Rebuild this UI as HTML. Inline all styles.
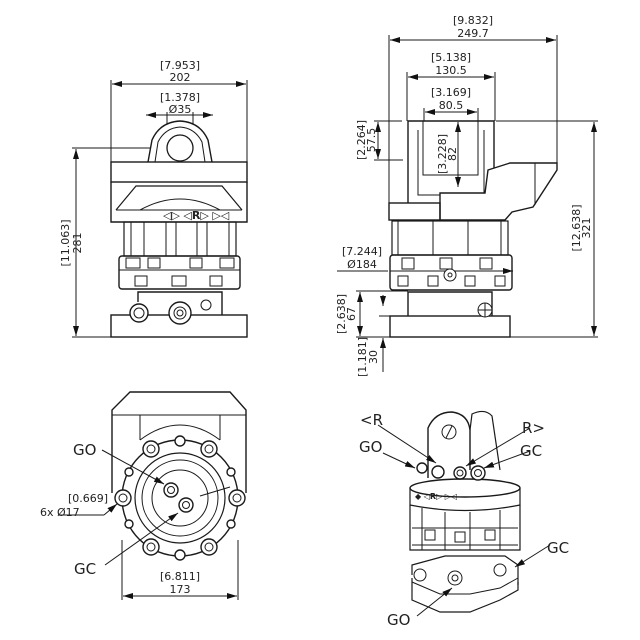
<!DOCTYPE html>
<html><head><meta charset="utf-8"><style>
html,body{margin:0;padding:0;background:#fff}
svg{display:block}
text{font-family:"DejaVu Sans","Liberation Sans",sans-serif;fill:#222}
.d{font-size:11px}
.l{font-size:15px}
</style></head><body>
<svg width="640" height="640" viewBox="0 0 640 640" xmlns="http://www.w3.org/2000/svg">
<defs>
<marker id="a" markerWidth="10" markerHeight="6" refX="10" refY="3" orient="auto-start-reverse" markerUnits="userSpaceOnUse"><path d="M0,0 L10,3 L0,6z" fill="#111"/></marker>
</defs>
<g stroke="#1a1a1a" stroke-width="1" fill="none">
<!-- ===== TOP LEFT VIEW ===== -->
<line x1="111" y1="80" x2="111" y2="162"/><line x1="247" y1="80" x2="247" y2="162"/>
<line x1="112" y1="84" x2="246" y2="84" marker-start="url(#a)" marker-end="url(#a)"/>
<line x1="146" y1="115" x2="213" y2="115" marker-start="url(#a)" marker-end="url(#a)"/>
<line x1="167" y1="112" x2="167" y2="148"/><line x1="193" y1="112" x2="193" y2="148"/>
<line x1="72" y1="148" x2="180" y2="148"/>
<line x1="76" y1="149" x2="76" y2="336" marker-start="url(#a)" marker-end="url(#a)"/>
<line x1="72" y1="337" x2="115" y2="337"/>
<path d="M148,162 L152,140 Q160,122 180,121 Q200,122 208,140 L212,162" fill="#fff" stroke-width="1.4"/>
<path d="M155,162 L158,142 Q165,128 180,127 Q195,128 202,142 L205,162"/>
<circle cx="180" cy="148" r="13" stroke-width="1.3"/>
<rect x="111" y="162" width="136" height="20" stroke-width="1.4"/>
<path d="M111,182 L111,222 L247,222 L247,182" stroke-width="1.4"/>
<path d="M116,210 L136,186 L222,186 L242,210" stroke-width="1.2"/>
<line x1="116" y1="210" x2="242" y2="210"/>
<path d="M140,210 Q180,188 220,210"/>
<rect x="124" y="222" width="112" height="34" stroke-width="1.2"/>
<line x1="131" y1="222" x2="131" y2="256"/><line x1="144" y1="222" x2="144" y2="256"/><line x1="166" y1="222" x2="166" y2="256"/><line x1="176" y1="222" x2="176" y2="256"/><line x1="197" y1="222" x2="197" y2="256"/><line x1="207" y1="222" x2="207" y2="256"/><line x1="229" y1="222" x2="229" y2="256"/>
<rect x="119" y="256" width="121" height="33" rx="3" stroke-width="1.4"/>
<line x1="119" y1="270" x2="240" y2="270"/>
<rect x="135" y="276" width="12" height="10"/><rect x="172" y="276" width="14" height="10"/><rect x="210" y="276" width="12" height="10"/>
<rect x="126" y="258" width="14" height="10"/><rect x="148" y="258" width="12" height="10"/><rect x="190" y="258" width="12" height="10"/><rect x="220" y="258" width="14" height="10"/>
<path d="M138,302 L138,292 L222,292 L222,315" stroke-width="1.4"/>
<rect x="111" y="315" width="136" height="22" stroke-width="1.4"/>
<circle cx="139" cy="313" r="9" fill="#fff" stroke-width="1.4"/><circle cx="139" cy="313" r="5"/>
<circle cx="180" cy="313" r="11" fill="#fff" stroke-width="1.4"/><circle cx="180" cy="313" r="6"/><circle cx="180" cy="313" r="3"/>
<circle cx="206" cy="305" r="5"/>
<!-- ===== TOP RIGHT VIEW ===== -->
<line x1="389" y1="35" x2="389" y2="203"/><line x1="557" y1="35" x2="557" y2="163"/>
<line x1="390" y1="40" x2="556" y2="40" marker-start="url(#a)" marker-end="url(#a)"/>
<line x1="407" y1="72" x2="407" y2="121"/><line x1="495" y1="72" x2="495" y2="121"/>
<line x1="408" y1="77" x2="494" y2="77" marker-start="url(#a)" marker-end="url(#a)"/>
<line x1="424" y1="108" x2="424" y2="121"/><line x1="478" y1="108" x2="478" y2="121"/>
<line x1="425" y1="112" x2="477" y2="112" marker-start="url(#a)" marker-end="url(#a)"/>
<line x1="458" y1="122" x2="458" y2="187" marker-start="url(#a)" marker-end="url(#a)"/>
<line x1="378" y1="122" x2="378" y2="159" marker-start="url(#a)" marker-end="url(#a)"/>
<line x1="374" y1="121" x2="402" y2="121"/><line x1="374" y1="160" x2="403" y2="160"/>
<line x1="496" y1="121" x2="598" y2="121"/><line x1="510" y1="337" x2="598" y2="337"/>
<line x1="594" y1="122" x2="594" y2="336" marker-start="url(#a)" marker-end="url(#a)"/>
<path d="M408,203 L408,121 L494,121 L494,203" stroke-width="1.4"/>
<path d="M423,121 L423,175 L478,175 L478,121"/>
<path d="M418,130 L418,195 L484,195 L484,130"/>
<path d="M440,203 L440,193 L485,193 L488,170 L510,163 L557,163 L557,170 L533,207 L512,212 L505,220 L440,220 Z" fill="#fff" stroke-width="1.4"/>
<line x1="535" y1="163" x2="535" y2="205"/>
<rect x="389" y="203" width="51" height="17" stroke-width="1.4"/>
<rect x="392" y="221" width="116" height="34" stroke-width="1.2"/>
<line x1="398" y1="221" x2="398" y2="255"/><line x1="433" y1="221" x2="433" y2="255"/><line x1="468" y1="221" x2="468" y2="255"/><line x1="501" y1="221" x2="501" y2="255"/>
<rect x="390" y="255" width="122" height="35" rx="3" stroke-width="1.4"/>
<line x1="390" y1="271" x2="512" y2="271"/>
<rect x="402" y="258" width="12" height="11"/><rect x="440" y="258" width="12" height="11"/><rect x="480" y="258" width="12" height="11"/>
<rect x="398" y="276" width="10" height="10"/><rect x="428" y="276" width="10" height="10"/><rect x="465" y="276" width="10" height="10"/><rect x="495" y="276" width="10" height="10"/>
<circle cx="450" cy="275" r="6" fill="#fff"/><circle cx="450" cy="275" r="2"/>
<line x1="337" y1="271" x2="388" y2="271"/>
<line x1="512" y1="271" x2="513" y2="271" marker-end="url(#a)"/>
<path d="M408,316 L408,292 L492,292 L492,316" stroke-width="1.4"/>
<rect x="390" y="316" width="120" height="21" stroke-width="1.4"/>
<circle cx="485" cy="310" r="7" fill="#fff"/><path d="M478,310 L492,310 M485,303 L485,317"/>
<line x1="356" y1="291" x2="408" y2="291"/>
<line x1="360" y1="292" x2="360" y2="336" marker-start="url(#a)" marker-end="url(#a)"/>
<line x1="356" y1="337" x2="390" y2="337"/>
<line x1="383" y1="295" x2="383" y2="306" marker-end="url(#a)"/>
<line x1="379" y1="316" x2="392" y2="316"/>
<line x1="383" y1="372" x2="383" y2="338" marker-end="url(#a)"/>
<!-- ===== BOTTOM LEFT VIEW ===== -->
<path d="M112,493 L112,410 L130,392 L230,392 L246,410 L246,493" stroke-width="1.4"/>
<path d="M112,415 L246,415 M140,440 L140,415 M220,440 L220,415"/>
<path d="M140,440 Q180,410 220,440"/>
<circle cx="180" cy="498" r="58" fill="#fff" stroke-width="1.4"/>
<circle cx="180" cy="498" r="45" stroke-width="1.2"/>
<circle cx="180" cy="498" r="38"/>
<circle cx="180" cy="498" r="28"/>
<circle cx="171" cy="490" r="7" stroke-width="1.4"/><circle cx="171" cy="490" r="3.5"/>
<circle cx="186" cy="505" r="7" stroke-width="1.4"/><circle cx="186" cy="505" r="3.5"/>
<g fill="#fff" stroke-width="1.4">
<circle cx="151" cy="449" r="8"/><circle cx="209" cy="449" r="8"/><circle cx="151" cy="547" r="8"/><circle cx="209" cy="547" r="8"/>
<circle cx="123" cy="498" r="8"/><circle cx="237" cy="498" r="8"/>
<circle cx="180" cy="441" r="5"/><circle cx="180" cy="555" r="5"/>
<circle cx="129" cy="472" r="4"/><circle cx="231" cy="472" r="4"/><circle cx="129" cy="524" r="4"/><circle cx="231" cy="524" r="4"/>
</g>
<circle cx="151" cy="449" r="4"/><circle cx="209" cy="449" r="4"/><circle cx="151" cy="547" r="4"/><circle cx="209" cy="547" r="4"/>
<circle cx="123" cy="498" r="4"/><circle cx="237" cy="498" r="4"/>
<line x1="102" y1="450" x2="164" y2="484" marker-end="url(#a)"/>
<line x1="105" y1="565" x2="178" y2="513" marker-end="url(#a)"/>
<line x1="200" y1="496" x2="230" y2="487"/>
<line x1="58" y1="515" x2="104" y2="515"/><line x1="104" y1="515" x2="117" y2="504" marker-end="url(#a)"/>
<line x1="122" y1="540" x2="122" y2="600"/><line x1="238" y1="540" x2="238" y2="600"/>
<line x1="123" y1="596" x2="237" y2="596" marker-start="url(#a)" marker-end="url(#a)"/>
<!-- ===== BOTTOM RIGHT ISO VIEW ===== -->
<path d="M428,478 L428,428 Q435,412 452,412 Q468,414 470,430 L470,470" fill="#fff" stroke-width="1.4"/>
<path d="M470,430 L472,414 Q485,408 492,416 L500,470" stroke-width="1.2"/>
<circle cx="449" cy="432" r="7"/><line x1="446" y1="438" x2="452" y2="426"/>
<ellipse cx="465" cy="488" rx="55" ry="9" fill="#fff" stroke-width="1.4"/>
<path d="M410,488 L410,505 Q465,516 520,505 L520,488" stroke-width="1.2"/>
<path d="M410,505 L410,550 L520,550 L520,505" stroke-width="1.2"/>
<line x1="422" y1="508" x2="422" y2="550"/><line x1="445" y1="512" x2="445" y2="550"/><line x1="470" y1="512" x2="470" y2="550"/><line x1="500" y1="510" x2="500" y2="550"/>
<path d="M412,528 L518,528 M412,545 L518,545"/>
<rect x="425" y="530" width="10" height="10"/><rect x="455" y="532" width="10" height="10"/><rect x="485" y="530" width="10" height="10"/>
<path d="M412,575 L412,565 L445,556 L505,556 L518,565 L518,585" stroke-width="1.2"/>
<path d="M412,578 L412,600 L440,612 L470,612 L500,600 L518,590 L518,582" stroke-width="1.2"/>
<path d="M412,582 L440,594 L470,594 L500,588 L518,578"/>
<circle cx="420" cy="575" r="6" fill="#fff"/><circle cx="455" cy="578" r="7" fill="#fff"/><circle cx="455" cy="578" r="3"/>
<circle cx="500" cy="570" r="6" fill="#fff"/>
<g fill="#fff" stroke-width="1.4"><circle cx="422" cy="468" r="5"/><circle cx="438" cy="472" r="6"/><circle cx="460" cy="473" r="6"/><circle cx="478" cy="473" r="7"/></g>
<circle cx="460" cy="473" r="3"/><circle cx="478" cy="473" r="3.5"/>
<line x1="378" y1="425" x2="436" y2="463" marker-end="url(#a)"/>
<line x1="383" y1="453" x2="415" y2="468" marker-end="url(#a)"/>
<line x1="530" y1="428" x2="466" y2="466" marker-end="url(#a)"/>
<line x1="530" y1="451" x2="484" y2="468" marker-end="url(#a)"/>
<line x1="550" y1="545" x2="515" y2="567" marker-end="url(#a)"/>
<line x1="417" y1="616" x2="452" y2="588" marker-end="url(#a)"/>
</g>
<!-- TEXT -->
<text class="d" x="180" y="69" text-anchor="middle">[7.953]</text>
<text class="d" x="180" y="81" text-anchor="middle">202</text>
<text class="d" x="180" y="101" text-anchor="middle">[1.378]</text>
<text class="d" x="180" y="113" text-anchor="middle">Ø35</text>
<text class="d" transform="translate(69,243) rotate(-90)" text-anchor="middle">[11.063]</text>
<text class="d" transform="translate(71,243) rotate(-90)" text-anchor="middle" dy="10">281</text>
<text class="d" x="163" y="219" font-size="8">◁▷  ◁<tspan font-weight="bold">R</tspan>▷  ▷◁</text>
<text class="d" x="473" y="24" text-anchor="middle">[9.832]</text>
<text class="d" x="473" y="37" text-anchor="middle">249.7</text>
<text class="d" x="451" y="61" text-anchor="middle">[5.138]</text>
<text class="d" x="451" y="74" text-anchor="middle">130.5</text>
<text class="d" x="451" y="96" text-anchor="middle">[3.169]</text>
<text class="d" x="451" y="109" text-anchor="middle">80.5</text>
<text class="d" transform="translate(446,154) rotate(-90)" text-anchor="middle">[3.228]</text>
<text class="d" transform="translate(456,154) rotate(-90)" text-anchor="middle">82</text>
<text class="d" transform="translate(365,140) rotate(-90)" text-anchor="middle">[2.264]</text>
<text class="d" transform="translate(375,140) rotate(-90)" text-anchor="middle">57.5</text>
<text class="d" transform="translate(580,228) rotate(-90)" text-anchor="middle">[12.638]</text>
<text class="d" transform="translate(590,228) rotate(-90)" text-anchor="middle">321</text>
<text class="d" x="362" y="255" text-anchor="middle">[7.244]</text>
<text class="d" x="362" y="268" text-anchor="middle">Ø184</text>
<text class="d" transform="translate(345,314) rotate(-90)" text-anchor="middle">[2.638]</text>
<text class="d" transform="translate(355,314) rotate(-90)" text-anchor="middle">67</text>
<text class="d" transform="translate(366,357) rotate(-90)" text-anchor="middle">[1.181]</text>
<text class="d" transform="translate(377,357) rotate(-90)" text-anchor="middle">30</text>
<text class="l" x="73" y="455">GO</text>
<text class="l" x="74" y="574">GC</text>
<text class="d" x="68" y="502">[0.669]</text>
<text class="d" x="40" y="516">6x   Ø17</text>
<text class="d" x="180" y="580" text-anchor="middle">[6.811]</text>
<text class="d" x="180" y="593" text-anchor="middle">173</text>
<text class="l" x="360" y="425">&lt;R</text>
<text class="l" x="359" y="452">GO</text>
<text class="l" x="522" y="433">R&gt;</text>
<text class="l" x="520" y="456">GC</text>
<text class="l" x="547" y="553">GC</text>
<text class="l" x="387" y="625">GO</text>
<text x="415" y="499" font-size="8">◆  ◁<tspan font-weight="bold">R</tspan>▷    ▷◁</text>
</svg>
</body></html>
